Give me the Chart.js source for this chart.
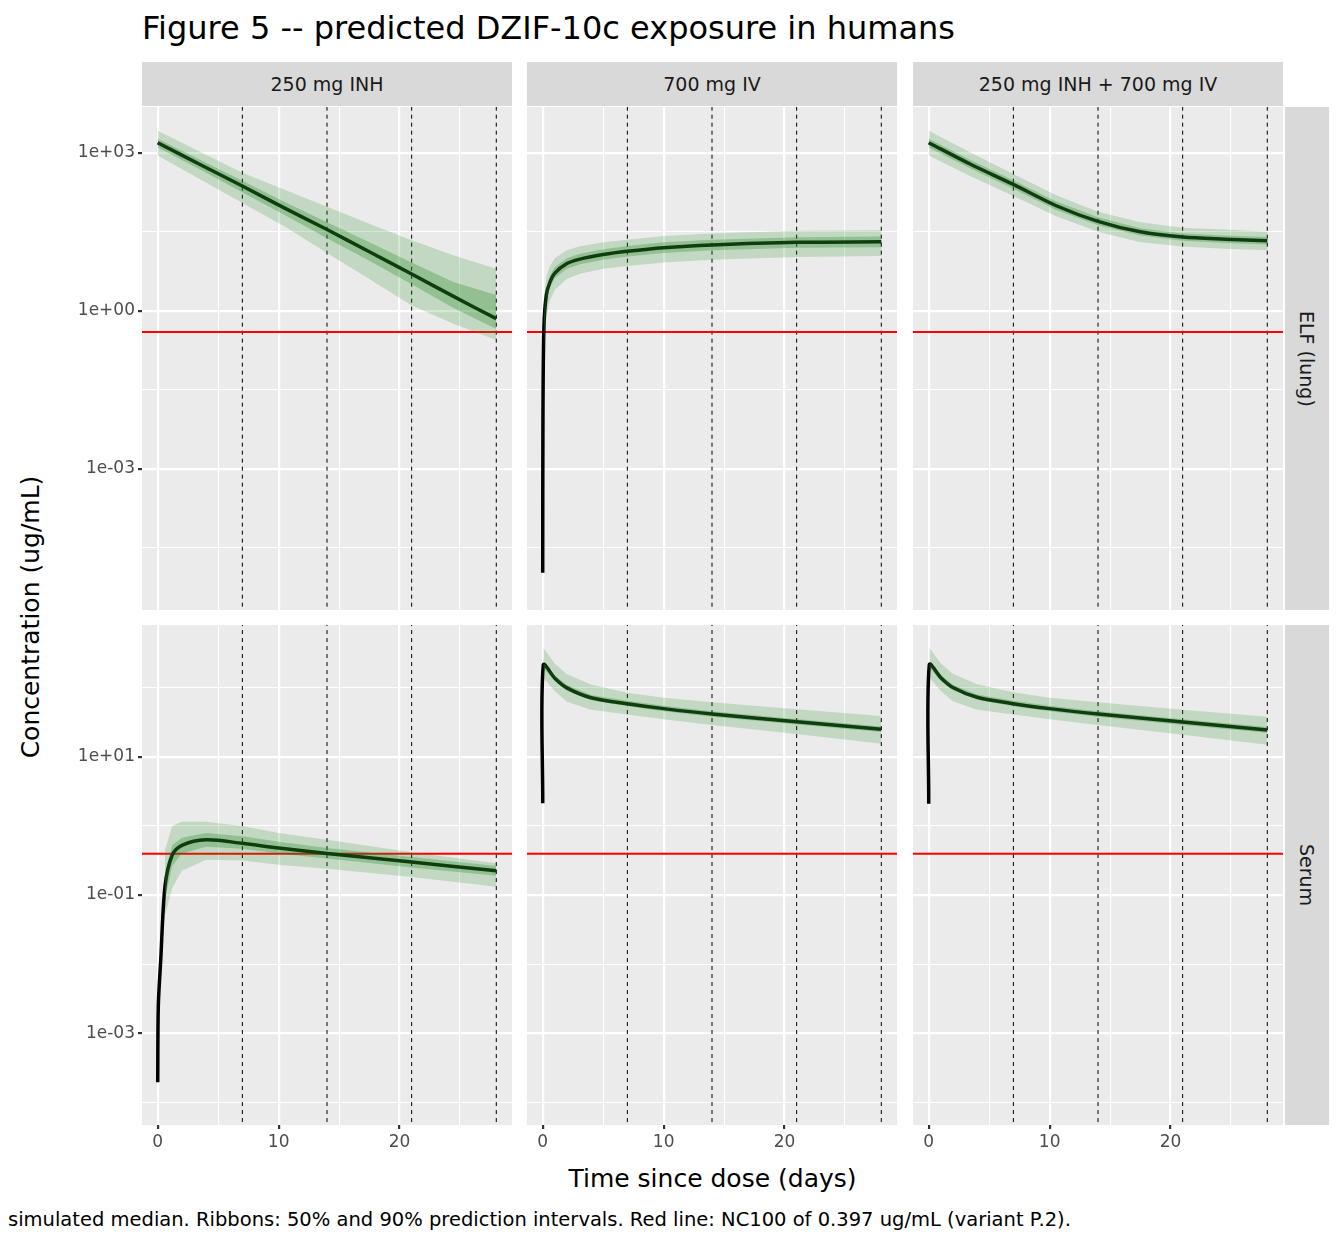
<!DOCTYPE html>
<html>
<head>
<meta charset="utf-8">
<script src="https://cdn.jsdelivr.net/npm/chart.js@4.4.1/dist/chart.umd.min.js"></script>
<style>
  body { margin:0; background:#fff; font-family:"DejaVu Sans", sans-serif; }
  #wrap { position:relative; width:1344px; height:1248px; overflow:hidden; }
  .abs { position:absolute; }
  .strip { position:absolute; background:#d9d9d9; color:#1a1a1a; font-size:19px;
           display:flex; align-items:center; justify-content:center; }
  .vstrip { writing-mode:vertical-rl; }
</style>
</head>
<body>
<div id="wrap">
  <div class="abs" style="left:142px;top:9px;font-size:32px;color:#000;white-space:nowrap;">Figure 5 -- predicted DZIF-10c exposure in humans</div>
  <div class="strip" style="left:142px;top:62px;width:370px;height:44px;">250 mg INH</div>
  <div class="strip" style="left:527px;top:62px;width:370px;height:44px;">700 mg IV</div>
  <div class="strip" style="left:913px;top:62px;width:370px;height:44px;">250 mg INH + 700 mg IV</div>
  <div class="strip vstrip" style="left:1285px;top:107px;width:44px;height:503px;">ELF (lung)</div>
  <div class="strip vstrip" style="left:1285px;top:625px;width:44px;height:500px;">Serum</div>
  <div class="abs" style="left:0;top:1164px;width:1425px;text-align:center;font-size:25px;color:#000;">Time since dose (days)</div>
  <div class="abs" style="left:30px;top:617px;font-size:25px;color:#000;transform:translate(-50%,-50%) rotate(-90deg);white-space:nowrap;">Concentration (ug/mL)</div>
  <div class="abs" style="left:8px;top:1208px;font-size:19.5px;color:#000;white-space:nowrap;">simulated median. Ribbons: 50% and 90% prediction intervals. Red line: NC100 of 0.397 ug/mL (variant P.2).</div>
</div>
<script>
// ---- data (ug/mL) ----
var NC100 = 0.397;
var dayLines = [7, 14, 21, 28];
var xTicks = [0, 5, 10, 15, 20, 25];
var xLabels = [0, 10, 20];

// ELF, 250 mg INH
var elfInhT   = [0, 3.5, 7, 10.5, 14, 17.5, 21, 24.5, 28];
var elfInhMed = [1550, 600, 234, 89, 35, 13.2, 5.0, 1.86, 0.71];
var elfInhP05 = [890, 316, 112, 40, 12.6, 4.0, 1.26, 0.56, 0.28];
var elfInhP25 = [1260, 480, 178, 66, 24, 8.9, 3.2, 1.12, 0.45];
var elfInhP75 = [1860, 740, 295, 117, 48, 20, 8.3, 3.5, 2.0];
var elfInhP95 = [2630, 1050, 417, 200, 95, 45, 22, 11.2, 6.3];

// ELF, 700 mg IV
var elfIvT    = [0, 0.02, 0.1, 0.3, 0.6, 1, 2, 3, 5, 7, 10, 14, 21, 28];
var elfIvMed  = [1.07e-5, 0.01, 0.5, 2.0, 3.5, 5.2, 7.9, 9.5, 11.7, 13.5, 15.8, 17.8, 20, 20.4];
var elfIvBT   = [0.1, 0.3, 0.6, 1, 2, 3, 5, 7, 10, 14, 21, 28];
var elfIvP05  = [0.16, 0.79, 1.58, 2.5, 4.0, 5.0, 6.3, 7.1, 8.3, 9.3, 10.5, 11];
var elfIvP25  = [0.32, 1.58, 2.8, 4.2, 6.3, 7.6, 9.3, 10.7, 12.6, 14.1, 15.8, 16.2];
var elfIvP75  = [0.79, 2.6, 4.7, 6.8, 10, 12, 14.8, 17, 20, 22.4, 25, 25.7];
var elfIvP95  = [1.58, 4.5, 7.1, 10, 14.1, 16.6, 20, 22.4, 26.3, 29.5, 33, 34];

// ELF, INH + IV
var elfComT   = [0, 3.5, 7, 10.5, 14, 17.5, 21, 24.5, 28];
var elfComMed = [1550, 600, 251, 100, 50, 31.6, 25.1, 22.9, 21.4];
var elfComP05 = [890, 355, 151, 63, 31.6, 20, 16.6, 15.1, 14.1];
var elfComP25 = [1260, 500, 209, 83, 42, 27, 21.4, 19.5, 18.2];
var elfComP75 = [1860, 724, 302, 120, 60, 37, 29.5, 27, 25.1];
var elfComP95 = [2630, 1000, 398, 158, 76, 48, 38, 35, 31.6];

// Serum, 250 mg INH
var serInhT   = [0, 0.05, 0.25, 0.6, 1.2, 2, 4, 7, 10, 14, 21, 28];
var serInhMed = [1.95e-4, 2.5e-3, 0.0115, 0.132, 0.38, 0.525, 0.63, 0.56, 0.48, 0.4, 0.3, 0.224];
var serInhBT  = [0.6, 1.2, 2, 4, 7, 10, 14, 21, 28];
var serInhP05 = [0.05, 0.126, 0.224, 0.324, 0.316, 0.275, 0.24, 0.182, 0.132];
var serInhP25 = [0.089, 0.263, 0.398, 0.5, 0.468, 0.398, 0.339, 0.251, 0.19];
var serInhP75 = [0.2, 0.525, 0.676, 0.794, 0.708, 0.589, 0.479, 0.355, 0.263];
var serInhP95 = [0.447, 1.0, 1.15, 1.15, 1.0, 0.79, 0.63, 0.417, 0.288];

// Serum, 700 mg IV
var serIvT    = [0, 0.05, 1, 2, 4, 7, 10, 14, 21, 28];
var serIvMed  = [2.14, 214, 138, 100, 72, 59, 50, 41.7, 32.4, 25.1];
var serIvBT   = [0.05, 1, 2, 4, 7, 10, 14, 21, 28];
var serIvP05  = [141, 89, 63, 48, 41, 35, 29, 21.4, 15.5];
var serIvP25  = [195, 126, 91, 66, 54, 46, 38, 29.5, 22.9];
var serIvP75  = [234, 151, 110, 79, 65, 55, 46, 35.5, 27.5];
var serIvP95  = [380, 224, 158, 112, 85, 72, 62, 49, 39];

// Serum, INH + IV
var serComT   = [0, 0.05, 1, 2, 4, 7, 10, 14, 21, 28];
var serComMed = [2.1, 216, 140, 101, 73, 59, 50, 41.7, 32, 24.5];
var serComBT  = [0.05, 1, 2, 4, 7, 10, 14, 21, 28];
var serComP05 = [142, 90, 64, 48, 41, 35, 29, 21, 15];
var serComP25 = [197, 127, 92, 67, 54, 46, 38, 29, 22.4];
var serComP75 = [236, 153, 111, 80, 65, 55, 46, 35, 27];
var serComP95 = [385, 226, 160, 113, 86, 72, 62, 48, 38];

// y axes per row: [log10 min, log10 max], major + minor breaks
var rowY = [
  { min: -5.68, max: 3.87, major: [-3, 0, 3], minor: [-4.5, -1.5, 1.5] },
  { min: -4.33, max: 2.91, major: [-3, -1, 1], minor: [-4, -2, 0, 2] }
];
var colX = [142, 527, 913];
var rowTop = [107, 625];
var rowH = [503, 500];
var PANEL_W = 370, Y_W = 76, X_H = 36;

function pts(t, v) { return t.map(function(x, i) { return { x: x, y: v[i] }; }); }
function isIn(v, list) { return list.some(function(e) { return Math.abs(Math.log10(v) - e) < 1e-6; }); }
function fmtExp(e) { return '1e' + (e < 0 ? '-' : '+') + String(Math.abs(e)).padStart(2, '0'); }

var bgPlugin = {
  id: 'panelBg',
  beforeDraw: function(chart) {
    var a = chart.chartArea, c = chart.ctx;
    c.save(); c.fillStyle = '#ebebeb'; c.fillRect(a.left, a.top, a.right - a.left, a.bottom - a.top); c.restore();
  }
};

function makePanel(col, row, tMed, med, tBand, p05, p25, p75, p95) {
  var left = col === 0, bottom = row === 1;
  var yr = rowY[row];
  var w = PANEL_W + (left ? Y_W : 0), h = rowH[row] + (bottom ? X_H : 0);
  var cv = document.createElement('canvas');
  cv.width = w; cv.height = h;
  cv.style.cssText = 'position:absolute;left:' + (colX[col] - (left ? Y_W : 0)) + 'px;top:' + rowTop[row] + 'px;width:' + w + 'px;height:' + h + 'px;';
  document.getElementById('wrap').appendChild(cv);

  var yMin = Math.pow(10, yr.min), yMax = Math.pow(10, yr.max);
  var datasets = [
    { data: pts(tBand, p05), borderWidth: 0, pointRadius: 0, fill: false },
    { data: pts(tBand, p95), borderWidth: 0, pointRadius: 0, fill: '-1', backgroundColor: 'rgba(34,139,34,0.2)' },
    { data: pts(tBand, p25), borderWidth: 0, pointRadius: 0, fill: false },
    { data: pts(tBand, p75), borderWidth: 0, pointRadius: 0, fill: '-1', backgroundColor: 'rgba(34,139,34,0.3)' },
    { data: pts(tMed, med), borderColor: '#000', borderWidth: 3.5, pointRadius: 0, fill: false, tension: 0.3 },
    { data: [{ x: -5, y: NC100 }, { x: 35, y: NC100 }], borderColor: '#ff0000', borderWidth: 2, pointRadius: 0, fill: false }
  ];
  dayLines.forEach(function(d) {
    datasets.push({ data: [{ x: d, y: yMin / 10 }, { x: d, y: yMax * 10 }], borderColor: '#000', borderWidth: 1,
      borderDash: [4, 4], pointRadius: 0, fill: false });
  });

  new Chart(cv.getContext('2d'), {
    type: 'line',
    data: { datasets: datasets },
    plugins: [bgPlugin],
    options: {
      responsive: false, animation: false,
      layout: { padding: 0 },
      plugins: { legend: { display: false }, tooltip: { enabled: false } },
      scales: {
        x: {
          type: 'linear', min: -1.3, max: 29.3,
          afterBuildTicks: function(s) { s.ticks = xTicks.map(function(v) { return { value: v }; }); },
          afterFit: function(s) { s.height = bottom ? X_H : 0; s.paddingLeft = 0; s.paddingRight = 0; },
          border: { display: false },
          grid: {
            color: '#fff', drawTicks: bottom, tickLength: 4,
            tickColor: function(c) { return xLabels.indexOf(c.tick.value) >= 0 ? '#333' : 'rgba(0,0,0,0)'; },
            lineWidth: function(c) { return xLabels.indexOf(c.tick.value) >= 0 ? 2.2 : 1.1; }
          },
          ticks: {
            display: bottom, color: '#4d4d4d', font: { family: 'DejaVu Sans', size: 17 }, padding: 3,
            maxRotation: 0, autoSkip: false,
            callback: function(v) { return xLabels.indexOf(v) >= 0 ? String(v) : ''; }
          }
        },
        y: {
          type: 'logarithmic', min: yMin, max: yMax,
          afterBuildTicks: function(s) {
            s.ticks = yr.major.concat(yr.minor).map(function(e) { return { value: Math.pow(10, e) }; });
          },
          afterFit: function(s) { s.width = left ? Y_W : 0; s.paddingTop = 0; s.paddingBottom = 0; },
          border: { display: false },
          grid: {
            color: '#fff', drawTicks: left, tickLength: 4,
            tickColor: function(c) { return isIn(c.tick.value, yr.major) ? '#333' : 'rgba(0,0,0,0)'; },
            lineWidth: function(c) { return isIn(c.tick.value, yr.major) ? 2.2 : 1.1; }
          },
          ticks: {
            display: left, color: '#4d4d4d', font: { family: 'DejaVu Sans', size: 17 }, padding: 3, autoSkip: false,
            callback: function(v) { return isIn(v, yr.major) ? fmtExp(Math.round(Math.log10(v))) : ''; }
          }
        }
      }
    }
  });
}

makePanel(0, 0, elfInhT, elfInhMed, elfInhT, elfInhP05, elfInhP25, elfInhP75, elfInhP95);
makePanel(1, 0, elfIvT, elfIvMed, elfIvBT, elfIvP05, elfIvP25, elfIvP75, elfIvP95);
makePanel(2, 0, elfComT, elfComMed, elfComT, elfComP05, elfComP25, elfComP75, elfComP95);
makePanel(0, 1, serInhT, serInhMed, serInhBT, serInhP05, serInhP25, serInhP75, serInhP95);
makePanel(1, 1, serIvT, serIvMed, serIvBT, serIvP05, serIvP25, serIvP75, serIvP95);
makePanel(2, 1, serComT, serComMed, serComBT, serComP05, serComP25, serComP75, serComP95);
</script>
</body>
</html>
